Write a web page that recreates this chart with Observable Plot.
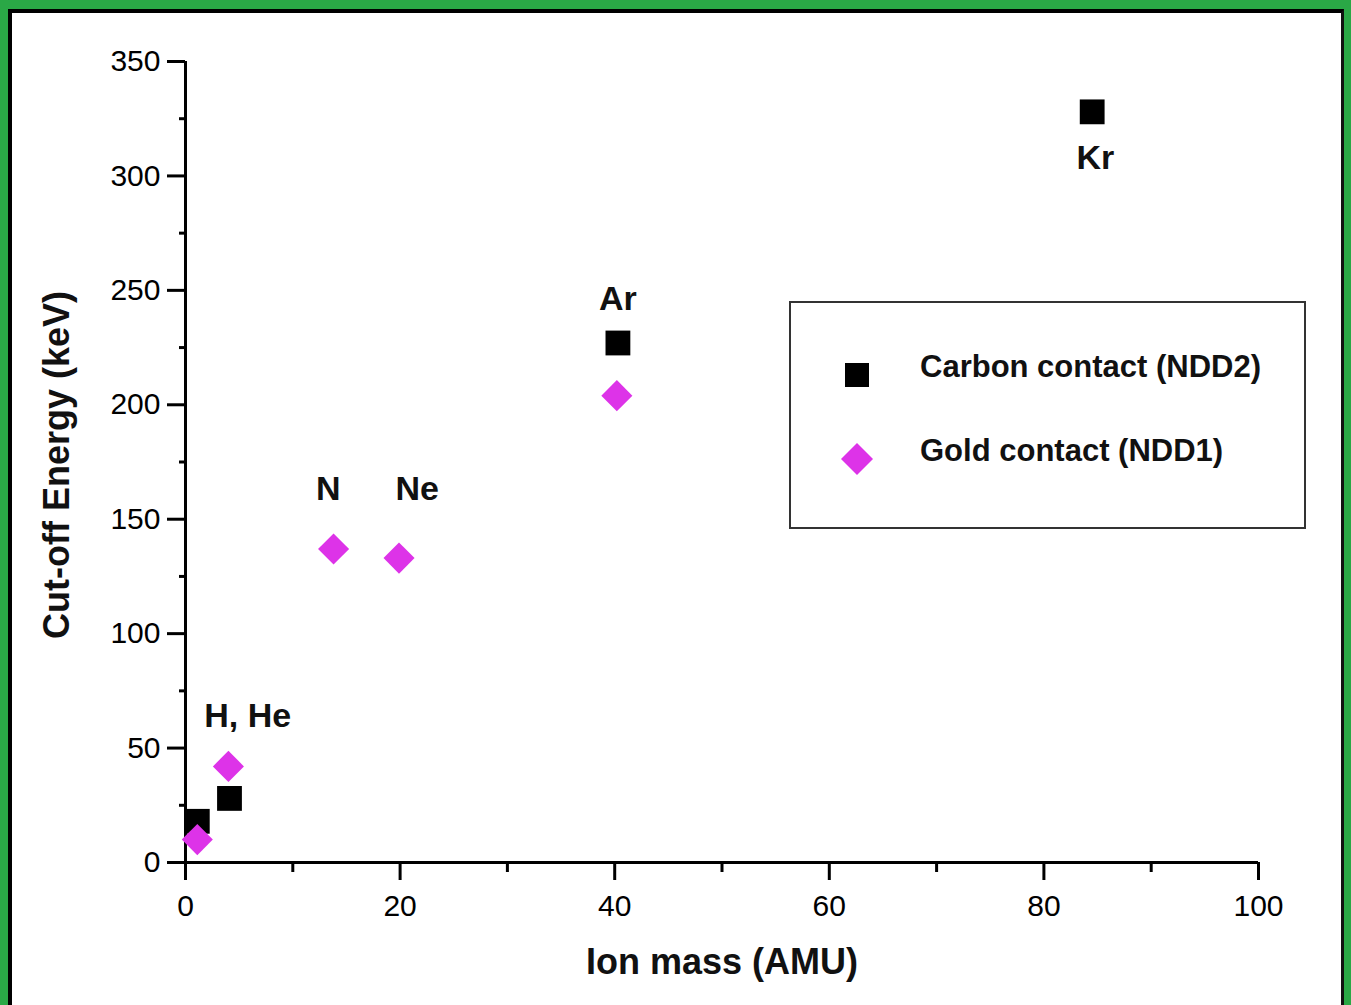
<!DOCTYPE html>
<html>
<head>
<meta charset="utf-8">
<script src="https://cdn.jsdelivr.net/npm/d3@7"></script>
<script src="https://cdn.jsdelivr.net/npm/@observablehq/plot@0.6"></script>
<style>
  html, body { margin: 0; padding: 0; background: #2aa846; }
  #wrap { position: relative; width: 1351px; height: 1005px; background: #2aa846; overflow: hidden;
          font-family: "Liberation Sans", Arial, Helvetica, sans-serif; }
  #inner { position: absolute; left: 8px; top: 9px; width: 1336px; height: 1000px; background: #fff;
           border-left: 4px solid #000; border-top: 4px solid #000; border-right: 3px solid #111; box-sizing: border-box; }
  #chart { position: absolute; left: 0; top: 0; }
  #legend { position: absolute; left: 789px; top: 301px; width: 517px; height: 228px; box-sizing: border-box;
            border: 2px solid #333; background: #fff; }
  .item { position: absolute; left: 0; height: 40px; width: 100%; }
  .item svg { position: absolute; left: 46px; top: 8px; }
  .item span { position: absolute; left: 129px; top: 0; line-height: 40px; font-size: 31px; font-weight: bold; color: #111; white-space: nowrap; }
</style>
</head>
<body>
<div id="wrap">
  <div id="inner"></div>
  <div id="chart"></div>
  <div id="legend"></div>
</div>
<script>
// ---- data ----
const carbonMass   = [1.1, 4.1, 40.3, 84.5];
const carbonEnergy = [18, 28, 227, 328];
const goldMass     = [1.1, 4, 13.8, 19.9, 40.2];
const goldEnergy   = [10, 42, 137, 133, 204];
const ionNames     = ["H, He", "N", "Ne", "Ar", "Kr"];
const ionLabelMass   = [5.8, 13.3, 21.6, 40.3, 84.8];
const ionLabelEnergy = [64, 163, 163, 246, 308];
const xMajor = [0, 20, 40, 60, 80, 100];
const xMinor = [10, 30, 50, 70, 90];
const yMajor = [0, 50, 100, 150, 200, 250, 300, 350];
const yMinor = [25, 75, 125, 175, 225, 275, 325];
const seriesNames = ["Carbon contact (NDD2)", "Gold contact (NDD1)"];
const xTitle = "Ion mass (AMU)";
const yTitle = "Cut-off Energy (keV)";
const magenta = "#dd33e8";

const carbon = carbonMass.map((m, i) => ({mass: m, energy: carbonEnergy[i]}));
const gold = goldMass.map((m, i) => ({mass: m, energy: goldEnergy[i]}));
const labels = ionNames.map((n, i) => ({name: n, mass: ionLabelMass[i], energy: ionLabelEnergy[i]}));

const plot = Plot.plot({
  width: 1351,
  height: 1005,
  marginLeft: 185,
  marginRight: 93,
  marginTop: 61,
  marginBottom: 143,
  style: {background: "transparent", color: "#000", fontFamily: "'Liberation Sans', Arial, sans-serif", overflow: "visible"},
  x: {domain: [0, 100]},
  y: {domain: [0, 350]},
  marks: [
    Plot.axisX({ticks: xMajor, tickSize: 18, tickPadding: 14, fontSize: 30, strokeWidth: 3, label: null, tickFormat: d => d}),
    Plot.axisX({ticks: xMinor, tickSize: 10, text: null, strokeWidth: 3, label: null}),
    Plot.axisY({ticks: yMajor, tickSize: 18, tickPadding: 7, fontSize: 30, strokeWidth: 3, label: null, tickFormat: d => d}),
    Plot.axisY({ticks: yMinor, tickSize: 6, text: null, strokeWidth: 3, label: null}),
    Plot.ruleY([0], {strokeWidth: 3}),
    Plot.ruleX([0], {strokeWidth: 3}),
    Plot.dot(carbon, {x: "mass", y: "energy", symbol: "square", fill: "#000", r: 14}),
    Plot.dot(gold, {x: "mass", y: "energy", symbol: "diamond2", fill: magenta, r: 14}),
    Plot.text(labels, {x: "mass", y: "energy", text: "name", fontSize: 34, fontWeight: "bold", fill: "#111"}),
    Plot.text([xTitle], {text: d => d, frameAnchor: "bottom", textAnchor: "middle", lineAnchor: "middle", dy: 100, fontSize: 36, fontWeight: "bold", fill: "#111"}),
    Plot.text([yTitle], {text: d => d, frameAnchor: "left", textAnchor: "middle", dx: -128, dy: 3, rotate: -90, fontSize: 36, fontWeight: "bold", fill: "#111"})
  ]
});
document.getElementById("chart").appendChild(plot);

// ---- legend ----
const legend = document.getElementById("legend");
const itemTops = [44, 128];
seriesNames.forEach((name, i) => {
  const item = document.createElement("div");
  item.className = "item";
  item.style.top = itemTops[i] + "px";
  const sym = i === 0
    ? `<svg width="40" height="40" viewBox="-20 -20 40 40"><rect x="-12" y="-12" width="24" height="24" fill="#000"/></svg>`
    : `<svg width="40" height="40" viewBox="-20 -20 40 40"><path d="M0,-16L16,0L0,16L-16,0Z" fill="${magenta}"/></svg>`;
  item.innerHTML = sym + `<span>${name}</span>`;
  legend.appendChild(item);
});
</script>
</body>
</html>
